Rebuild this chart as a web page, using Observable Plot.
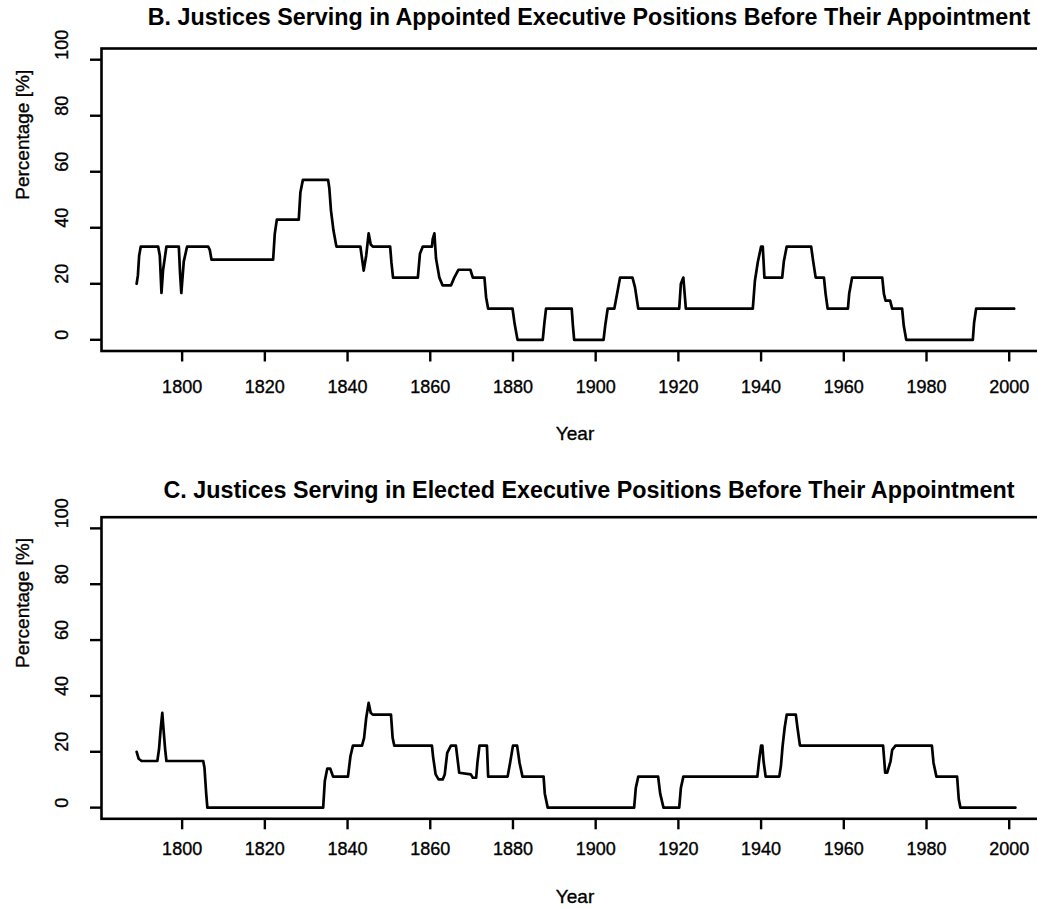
<!DOCTYPE html>
<html>
<head>
<meta charset="utf-8">
<script src="https://cdn.jsdelivr.net/npm/d3@7"></script>
<script src="https://cdn.jsdelivr.net/npm/@observablehq/plot@0.6"></script>
<style>
  html, body { margin: 0; padding: 0; background: white; }
  #wrap { position: relative; width: 1037px; height: 909px; overflow: hidden; background: white; }
  #wrap .panel { position: absolute; left: 0; }
  #wrap svg { max-width: none !important; overflow: visible; }
  #wrap svg g[aria-label^="x-axis"] line, #wrap svg g[aria-label^="x-axis"] path,
  #wrap svg g[aria-label^="y-axis"] line, #wrap svg g[aria-label^="y-axis"] path { stroke-width: 2.4px; stroke: black; }
</style>
</head>
<body>
<div id="wrap"></div>
<script>
// ---- Data ----
const titleB = "B. Justices Serving in Appointed Executive Positions Before Their Appointment";
const titleC = "C. Justices Serving in Elected Executive Positions Before Their Appointment";
const xLabel = "Year";
const yLabel = "Percentage [%]";
const xTicks = [1800, 1820, 1840, 1860, 1880, 1900, 1920, 1940, 1960, 1980, 2000];
const yTicks = [0, 20, 40, 60, 80, 100];

const yearsB = [1789.0,1789.3,1789.6,1790.0,1794.2,1794.6,1795.0,1795.4,1796.2,1799.2,1799.5,1799.8,1800.4,1801.2,
  1806.3,1806.7,1807.1,1822.0,1822.4,1822.9,1828.2,1828.6,1829.2,1835.3,1835.6,1836.0,1836.6,1837.3,
  1843.1,1843.9,1844.5,1845.1,1845.6,1846.1,1850.3,1850.6,1851.0,1857.0,1857.5,1858.2,1860.4,1860.6,1861.0,
  1861.4,1862.2,1863.0,1865.0,1865.8,1866.8,1869.7,1870.3,1873.1,1873.5,1874.0,1879.9,1880.4,1881.1,
  1887.2,1887.6,1888.0,1894.2,1894.5,1894.8,1901.9,1902.3,1902.9,1904.5,1905.1,1905.9,1908.9,1909.5,1910.3,
  1920.2,1920.6,1921.2,1921.6,1921.8,1938.0,1938.5,1939.2,1940.0,1940.4,1940.6,1940.8,1945.1,1945.5,1946.2,
  1952.1,1952.6,1953.2,1955.2,1955.6,1956.1,1961.0,1961.3,1962.0,1969.3,1969.7,1970.1,1971.2,1971.7,
  1974.1,1974.5,1975.1,1991.2,1991.5,1992.0,2001.2];
const valuesB = [20,23,30,33.3,33.3,30,16.7,25,33.3,33.3,23.6,16.7,28,33.3,
  33.3,32,28.6,28.6,37.8,42.9,42.9,52.7,57.1,57.1,54,46,39,33.3,
  33.3,24.7,30,38,34,33.3,33.3,27.7,22.2,22.2,30.7,33.3,33.3,36,38,
  28.9,22.2,19.4,19.4,22.2,25,25,22.2,22.2,15.2,11.1,11.1,5.7,0,
  0,6,11.1,11.1,5,0,0,5,11.1,11.1,15.8,22.2,22.2,18.8,11.1,
  11.1,20,22.2,15,11.1,11.1,21,27.7,33.3,33.3,28,22.2,22.2,28,33.3,
  33.3,28,22.2,22.2,16.4,11.1,11.1,16.4,22.2,22.2,16.4,14,14,11.1,
  11.1,5,0,0,6,11.1,11.1];

const yearsC = [1789.0,1789.5,1790.2,1794.0,1794.4,1794.8,1795.2,1795.5,1795.9,1796.2,1805.1,1805.4,1805.8,1806.1,
  1834.1,1834.5,1835.1,1835.8,1836.5,1840.1,1840.7,1841.3,1843.5,1844.0,1844.5,1845.1,1845.6,1846.1,
  1850.5,1850.9,1851.3,1860.4,1860.7,1861.3,1862.0,1863.0,1863.5,1864.1,1865.0,1866.2,1867.0,1869.8,
  1870.3,1871.1,1871.4,1871.9,1873.7,1874.0,1878.7,1879.3,1880.0,1881.0,1881.6,1882.3,1887.4,1887.7,1888.4,
  1909.3,1909.7,1910.3,1915.1,1915.6,1916.4,1920.2,1920.6,1921.2,1939.1,1939.5,1940.0,1940.3,1940.6,1941.1,
  1944.4,1944.8,1945.2,1945.7,1946.2,1948.4,1948.8,1949.4,1969.5,1969.8,1970.0,1970.5,1971.3,1971.7,1972.5,
  1981.3,1981.7,1982.4,1987.4,1987.8,1988.2,2001.5];
const valuesC = [20,17.5,16.7,16.7,20.8,28,33.9,28,20.8,16.7,16.7,14.3,5.4,0,
  0,9.5,14,14,11.1,11.1,18.4,22.2,22.2,25,32,37.5,34,33.3,
  33.3,25,22.2,22.2,18,11.9,10.1,10.1,11.9,19.6,22.2,22.2,12.5,11.9,
  10.7,10.7,16,22.2,22.2,11.1,11.1,16,22.2,22.2,16,11.1,11.1,5,0,
  0,7,11.1,11.1,5,0,0,7,11.1,11.1,16.6,22.2,22.2,16.6,11.1,
  11.1,15,22,28.6,33.3,33.3,28.6,22.2,22.2,16.6,12.5,12.5,16.6,20.7,22.2,
  22.2,16,11.1,11.1,3,0,0];

// ---- Rendering ----
const FONT = "'Liberation Sans', Arial, Helvetica, sans-serif";

function panel({title, years, values, top, height, marginTop, marginBottom, titleDy, tickDy, labelDy}) {
  const data = years.map((y, i) => ({year: y, value: values[i]}));
  const txt = {fill: "black", stroke: "black", strokeWidth: 0.35, lineAnchor: "middle"};
  const svg = Plot.plot({
    width: 1060,
    height,
    marginLeft: 101,
    marginRight: 12,
    marginTop,
    marginBottom,
    style: {fontFamily: FONT, fontSize: "18px", color: "black", background: "white", overflow: "visible"},
    x: {domain: [1780.5, 2009.5], ticks: xTicks, tickSize: 11, tickFormat: () => "", label: null},
    y: {domain: [-4, 104], ticks: yTicks, tickSize: 11, tickFormat: () => "", label: null},
    marks: [
      Plot.frame({stroke: "black", strokeWidth: 2.6}),
      Plot.line(data, {x: "year", y: "value", stroke: "black", strokeWidth: 2.7}),
      Plot.text(xTicks, {x: d => d, text: d => String(d), frameAnchor: "bottom", dy: tickDy, fontSize: 18, ...txt}),
      Plot.text(yTicks, {y: d => d, text: d => String(d), frameAnchor: "left", dx: -39, rotate: -90, fontSize: 18, ...txt}),
      Plot.text([xLabel], {text: d => d, frameAnchor: "bottom", dy: labelDy, fontSize: 19, ...txt}),
      Plot.text([yLabel], {text: d => d, frameAnchor: "left", dx: -79, rotate: -90, fontSize: 19, ...txt}),
      Plot.text([title], {text: d => d, frameAnchor: "top", dy: titleDy, dx: 14, fontSize: 23.3, fontWeight: "bold", ...txt, strokeWidth: 0})
    ]
  });
  const div = document.createElement("div");
  div.className = "panel";
  div.style.top = top + "px";
  div.appendChild(svg);
  document.getElementById("wrap").appendChild(div);
}

panel({title: titleB, years: yearsB, values: valuesB, top: 0, height: 468,
  marginTop: 48, marginBottom: 117.5, titleDy: -31, tickDy: 36, labelDy: 83});
panel({title: titleC, years: yearsC, values: valuesC, top: 468, height: 441,
  marginTop: 48.7, marginBottom: 90.7, titleDy: -26.7, tickDy: 30.7, labelDy: 78});
</script>
</body>
</html>
